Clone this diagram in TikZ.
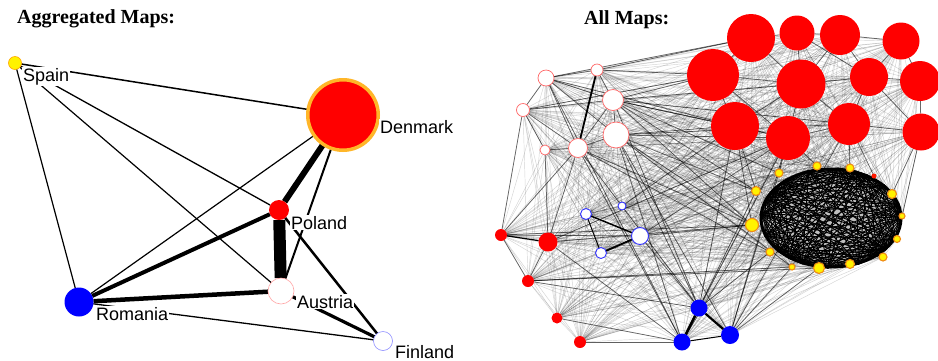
\documentclass[tikz,border=0pt]{standalone}
\usepackage{fontspec}
\setmainfont{Liberation Sans}
\newfontfamily\titlefont{Liberation Serif}
\pgfdeclarelayer{back}
\pgfdeclarelayer{bg}
\pgfdeclarelayer{mesh}
\pgfsetlayers{back,mesh,bg,main}
\definecolor{dkring}{RGB}{255,182,40}
\definecolor{yring}{RGB}{240,140,20}
\begin{document}
\begin{tikzpicture}[x=1pt,y=-1pt,
  vtx/.style={circle, inner sep=0pt, outer sep=0pt},
  rbig/.style={vtx, fill=red},
  wred/.style={vtx, fill=white, draw=red!60, line width=0.7},
  wblue/.style={vtx, fill=white, draw=blue!80, line width=0.9},
  rsmall/.style={vtx, fill=red},
  bfill/.style={vtx, fill=blue},
  ynode/.style={vtx, fill=yellow, draw=yring, line width=1.1},
  lbl/.style={anchor=base west, fill=white, inner sep=1pt, font=\fontsize{18}{20}\selectfont},
  ttl/.style={anchor=base west, inner sep=0pt, font=\titlefont\bfseries\fontsize{20}{22}\selectfont},
  edge/.style={draw=black, line width=#1},
  meshline/.style={draw=black, opacity=0.17, line width=0.45},
  darkline/.style={draw=black, opacity=0.55, line width=0.75},
  chord/.style={draw=black, line width=0.9}
]
\useasboundingbox (0,0) rectangle (938,360);
\begin{pgfonlayer}{back}
\fill[white] (0,0) rectangle (938,360);
\end{pgfonlayer}

% ---------- titles ----------
\node[ttl] (t1) at (17,23) {Aggregated Maps:};
\node[ttl] (t2) at (584,24) {All Maps:};

% ---------- left panel ----------
\node[vtx, fill=yellow, draw=orange!70!yellow, line width=0.6, minimum size=13] (spain) at (15,63) {};
\node[vtx, fill=red, draw=dkring, line width=3.5, minimum size=70.5] (denmark) at (343,115) {};
\node[vtx, fill=red, minimum size=20] (poland) at (279,210) {};
\node[vtx, fill=white, draw=red!35, line width=0.6, minimum size=26] (austria) at (281,291) {};
\node[vtx, fill=blue, minimum size=29] (romania) at (79,302) {};
\node[vtx, fill=white, draw=blue!45, line width=0.6, minimum size=19] (finland) at (383,341) {};

\node[lbl] (lspain) at (22,81) {Spain};
\node[lbl] (ldenmark) at (379,133) {Denmark};
\node[lbl] (lpoland) at (290,229) {Poland};
\node[lbl] (laustria) at (296,308) {Austria};
\node[lbl] (lromania) at (95,320) {Romania};
\node[lbl] (lfinland) at (394,358) {Finland};

\begin{pgfonlayer}{bg}
\draw[edge=1.5] (spain) -- (denmark);
\draw[edge=1.2] (spain) -- (romania);
\draw[edge=1.3] (spain) -- (poland);
\draw[edge=1.2] (spain) -- (austria);
\draw[edge=1.2] (denmark) -- (romania);
\draw[edge=6] (denmark) -- (poland);
\draw[edge=2] (denmark) -- (austria);
\draw[edge=12] (poland) -- (austria);
\draw[edge=4] (poland) -- (romania);
\draw[edge=2.5] (poland) -- (finland);
\draw[edge=4.5] (romania) -- (austria);
\draw[edge=1.3] (romania) -- (finland);
\draw[edge=3.2] (austria) -- (finland);
\end{pgfonlayer}

% ---------- right panel: nodes ----------
\node[rbig, minimum size=48] (R1) at (751,38) {};
\node[rbig, minimum size=35] (R2) at (797,33) {};
\node[rbig, minimum size=40] (R3) at (840,35) {};
\node[rbig, minimum size=37] (R4) at (901,41) {};
\node[rbig, minimum size=52] (R5) at (713,75) {};
\node[rbig, minimum size=49] (R6) at (801,84) {};
\node[rbig, minimum size=38] (R7) at (869,77) {};
\node[rbig, minimum size=40] (R8) at (920,81) {};
\node[rbig, minimum size=48] (R9) at (735,126) {};
\node[rbig, minimum size=44] (R10) at (788,138) {};
\node[rbig, minimum size=42] (R11) at (849,124) {};
\node[rbig, minimum size=37] (R12) at (921,132) {};

\node[wred, minimum size=16] (W1) at (546,78) {};
\node[wred, minimum size=12] (W2) at (597,70) {};
\node[wred, minimum size=13] (W3) at (523,110) {};
\node[wred, minimum size=21] (W4) at (613,100) {};
\node[wred, minimum size=26] (W5) at (616,135) {};
\node[wred, minimum size=10] (W6) at (545,150) {};
\node[wred, minimum size=19] (W7) at (578,148) {};

\node[wblue, minimum size=11] (B1) at (586,214) {};
\node[wblue, minimum size=8] (B2) at (622,206) {};
\node[wblue, minimum size=17] (B3) at (640,236) {};
\node[wblue, minimum size=11] (B4) at (601,253) {};

\node[rsmall, minimum size=12] (S1) at (501,235) {};
\node[rsmall, minimum size=19] (S2) at (548,242) {};
\node[rsmall, minimum size=12] (S3) at (528,281) {};
\node[rsmall, minimum size=11] (S4) at (557,318) {};
\node[rsmall, minimum size=12] (S5) at (580,342) {};

\node[bfill, minimum size=17] (U1) at (699,308) {};
\node[bfill, minimum size=17] (U2) at (682,342) {};
\node[bfill, minimum size=18] (U3) at (730,335) {};

\node[ynode, minimum size=8] (Y1) at (779,173) {};
\node[ynode, minimum size=8] (Y2) at (817,166) {};
\node[ynode, minimum size=8] (Y3) at (850,168) {};
\node[ynode, minimum size=9] (Y4) at (756,191) {};
\node[ynode, minimum size=9] (Y5) at (892,194) {};
\node[ynode, minimum size=6] (Y6) at (902,216) {};
\node[ynode, minimum size=13] (Y7) at (752,225) {};
\node[ynode, minimum size=7] (Y8) at (897,239) {};
\node[ynode, minimum size=8] (Y9) at (770,252) {};
\node[ynode, minimum size=8] (Y10) at (883,257) {};
\node[ynode, minimum size=6] (Y11) at (792,267) {};
\node[ynode, minimum size=11] (Y12) at (819,268) {};
\node[ynode, minimum size=9] (Y13) at (850,264) {};
\node[vtx, fill=red!80!orange, minimum size=5] (Y14) at (874,176) {};

% ---------- right panel: edges ----------
\def\allnodes{R1,R2,R3,R4,R5,R6,R7,R8,R9,R10,R11,R12,W1,W2,W3,W4,W5,W6,W7,B1,B2,B3,B4,S1,S2,S3,S4,S5,U1,U2,U3,Y1,Y2,Y3,Y4,Y5,Y6,Y7,Y8,Y9,Y10,Y11,Y12,Y13}
\begin{pgfonlayer}{mesh}
\foreach \a [count=\i] in \allnodes {
  \foreach \b [count=\j] in \allnodes {
    \ifnum\j>\i \draw[meshline] (\a) -- (\b); \fi
  }
}
\end{pgfonlayer}

\begin{pgfonlayer}{bg}
\foreach \a/\b in {W1/W2,W1/W3,W1/W4,W1/W7,W1/W5,W2/W4,W3/W4,W3/W7,W4/W7,W4/W5,W5/W7,W3/W6,W6/W7,
  W7/S1,W7/S2,W3/S1,W6/S2,W2/R1,W4/R5,W4/R9,W5/R9,W5/R10,W4/R6,W5/U1,W5/U2,W7/U1,W1/U2,
  W4/R10,W4/Y7,W5/Y7,W5/Y4,W5/R11,W4/R11,W2/R5,W1/R1,W3/R5,W4/Y1,W7/Y7,W7/U2,W5/U3,W4/U1,
  B3/U1,B2/R9,S2/U2,S3/Y12,S1/Y7,S2/R10,W7/Y9,W5/Y11,W4/Y4,W1/R9,
  B3/Y7,B3/R10,S1/S3,S2/S3,S3/Y11,S2/Y7,S3/U1,S4/U2,S5/U2,S1/B3,
  U1/R9,U1/R10,U3/R10,U3/Y12,U1/Y9,U2/Y7,U3/Y11,U3/R11,U1/Y4,U3/Y1,
  R1/R2,R2/R3,R3/R4,R5/R6,R6/R7,R7/R8,R9/R10,R10/R11,R11/R12,R1/R5,R1/R6,R2/R6,R3/R7,
  R4/R7,R4/R8,R5/R9,R6/R10,R7/R11,R8/R12,R6/R11,R11/Y3,R10/Y1,R9/Y4,R12/Y5,R9/Y7,R12/Y8,
  R5/R10,R9/R6,R3/R6,R7/R12,R2/R7,R10/Y2,R11/Y14}
  { \draw[darkline] (\a) -- (\b); }
\draw[edge=1.8] (W2) -- (W7);
\draw[edge=1.5] (B1) -- (B3);
\draw[edge=1.8] (B3) -- (B4);
\draw[edge=1] (B1) -- (B4);
\draw[edge=1.2] (S1) -- (S2);
\draw[edge=2.5] (U1) -- (U2);
\draw[edge=2.2] (U1) -- (U3);
\draw[edge=1] (U2) -- (U3);
% dense yellow cluster
\fill[white!75!black] (831,218) ellipse [x radius=71, y radius=50];
\foreach \k in {0,...,19} {
  \coordinate (e\k) at ({831+71*cos(\k*18+6*sin(\k*77))},{218+50*sin(\k*18+6*sin(\k*77))});
}
\foreach \k in {0,...,18} {
  \pgfmathtruncatemacro\s{\k+1}
  \foreach \m in {\s,...,19} { \draw[chord] (e\k) -- (e\m); }
}
\draw[black, line width=3] (831,218) ellipse [x radius=70, y radius=49];
\end{pgfonlayer}
\end{tikzpicture}
\end{document}
